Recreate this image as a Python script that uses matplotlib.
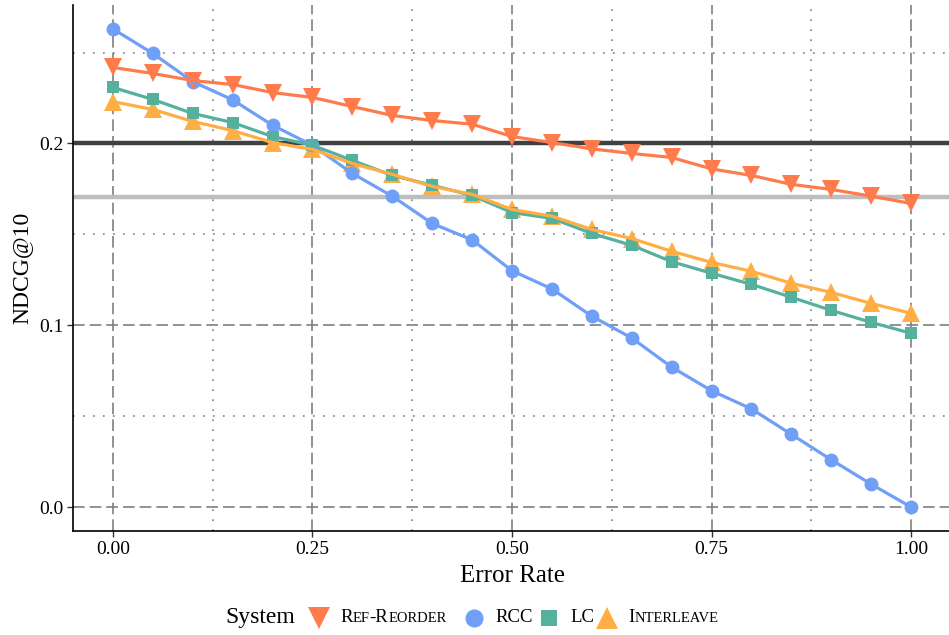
import itertools
import numpy as np
import matplotlib
matplotlib.use("Agg")
import matplotlib.pyplot as plt
from matplotlib.lines import Line2D
from matplotlib.offsetbox import HPacker, TextArea, AnchoredOffsetbox

SERIF = ["Liberation Serif", "DejaVu Serif"]

error_rate = [0.00, 0.05, 0.10, 0.15, 0.20, 0.25, 0.30, 0.35, 0.40, 0.45, 0.50,
              0.55, 0.60, 0.65, 0.70, 0.75, 0.80, 0.85, 0.90, 0.95, 1.00]

ref_reorder = [0.2418, 0.2385, 0.2346, 0.2324, 0.2280, 0.2253, 0.2203, 0.2154, 0.2126, 0.2106, 0.2038,
               0.2005, 0.1970, 0.1945, 0.1923, 0.1860, 0.1824, 0.1775, 0.1747, 0.1710, 0.1670]
rcc = [0.2630, 0.2495, 0.2340, 0.2240, 0.2100, 0.1990, 0.1835, 0.1710, 0.1560, 0.1470, 0.1300,
       0.1200, 0.1050, 0.0930, 0.0770, 0.0640, 0.0540, 0.0400, 0.0260, 0.0126, 0.0000]
lc = [0.2308, 0.2242, 0.2165, 0.2115, 0.2038, 0.1990, 0.1907, 0.1824, 0.1770, 0.1714, 0.1620,
      0.1588, 0.1505, 0.1440, 0.1350, 0.1286, 0.1225, 0.1154, 0.1082, 0.1016, 0.0956]
interleave = [0.2230, 0.2187, 0.2121, 0.2071, 0.2005, 0.1967, 0.1890, 0.1830, 0.1764, 0.1720, 0.1637,
              0.1600, 0.1527, 0.1477, 0.1407, 0.1346, 0.1297, 0.1231, 0.1181, 0.1120, 0.1066]

baseline_dark = 0.200
baseline_light = 0.1703

systems = ["Ref-Reorder", "RCC", "LC", "Interleave"]
series = {"Ref-Reorder": ref_reorder, "RCC": rcc, "LC": lc, "Interleave": interleave}
colors = {"Ref-Reorder": "#FF7B4C", "RCC": "#6F9FF7", "LC": "#55B09E", "Interleave": "#FFAD45"}
markers = {"Ref-Reorder": "v", "RCC": "o", "LC": "s", "Interleave": "^"}
msizes = {"Ref-Reorder": 13, "RCC": 10, "LC": 9, "Interleave": 13}
key_sizes = {"Ref-Reorder": 16, "RCC": 13, "LC": 11.5, "Interleave": 16}

W, H = 949, 635
fig = plt.figure(figsize=(W / 100, H / 100), dpi=100)
ax = fig.add_axes([73 / W, 1 - 531 / H, (951 - 73) / W, 526 / H])

ax.set_xlim(-0.05, 1.05)
ax.set_ylim(-0.01315, 0.27615)
ax.set_xticks([0, 0.25, 0.5, 0.75, 1.0])
ax.set_xticklabels(["0.00", "0.25", "0.50", "0.75", "1.00"])
ax.set_xticks([0.125, 0.375, 0.625, 0.875], minor=True)
ax.set_yticks([0.0, 0.1, 0.2])
ax.set_yticklabels(["0.0", "0.1", "0.2"])
ax.set_yticks([0.05, 0.15, 0.25], minor=True)

ax.grid(which="major", color="#7F7F7F", linewidth=1.2, linestyle=(0, (7, 3)), zorder=0)
ax.grid(which="minor", color="#7F7F7F", linewidth=1.2, linestyle=(0, (1, 5)), zorder=0)
ax.set_axisbelow(True)

ax.axhline(baseline_dark, color="#404040", linewidth=3.2, zorder=1)
ax.axhline(baseline_light, color="#BEBEBE", linewidth=3.2, zorder=1)

# points first, lines on top (as in the source plot)
for name in ["Interleave", "RCC", "LC", "Ref-Reorder"]:
    ax.plot(error_rate, series[name], linestyle="none", marker=markers[name],
            markersize=msizes[name], color=colors[name], markeredgewidth=0, zorder=3)
for name in ["RCC", "LC", "Interleave", "Ref-Reorder"]:
    ax.plot(error_rate, series[name], color=colors[name], linewidth=2.3, zorder=4)

for s in ["top", "right"]:
    ax.spines[s].set_visible(False)
for s in ["left", "bottom"]:
    ax.spines[s].set_linewidth(1.2)
ax.tick_params(which="major", length=4, width=1.0, color="#333333", labelsize=14, pad=3)
ax.tick_params(which="minor", length=0)
for lab in ax.get_xticklabels() + ax.get_yticklabels():
    lab.set_family(SERIF)
    lab.set_color("black")

ax.set_xlabel("Error Rate", family=SERIF, fontsize=18, labelpad=5)
ax.set_ylabel("NDCG@10", family=SERIF, fontsize=17, labelpad=5)


def smallcaps(s, size, small):
    parts = []
    for low, grp in itertools.groupby(s, key=lambda c: c.islower()):
        txt = "".join(grp)
        parts.append(TextArea(txt.upper() if low else txt,
                              textprops=dict(size=small if low else size, family=SERIF)))
    return HPacker(children=parts, align="baseline", pad=0, sep=0)


# legend at the bottom, laid out by hand
leg_y = 1 - 618 / H
fig.text(225 / W, leg_y, "System", family=SERIF, fontsize=17, ha="left", va="center")
key_x = [319, 474, 549, 606.5]
label_x = [340, 495, 570, 628]
for name, kx, lx in zip(systems, key_x, label_x):
    fig.add_artist(Line2D([kx / W], [leg_y], transform=fig.transFigure, marker=markers[name],
                          markersize=key_sizes[name], color=colors[name],
                          markeredgewidth=0, linestyle="none"))
    box = AnchoredOffsetbox(loc="center left", child=smallcaps(name, 13.5, 10.5), frameon=False,
                            bbox_to_anchor=(lx / W, leg_y), bbox_transform=fig.transFigure,
                            borderpad=0, pad=0)
    fig.add_artist(box)

fig.savefig("out.png", dpi=100)
